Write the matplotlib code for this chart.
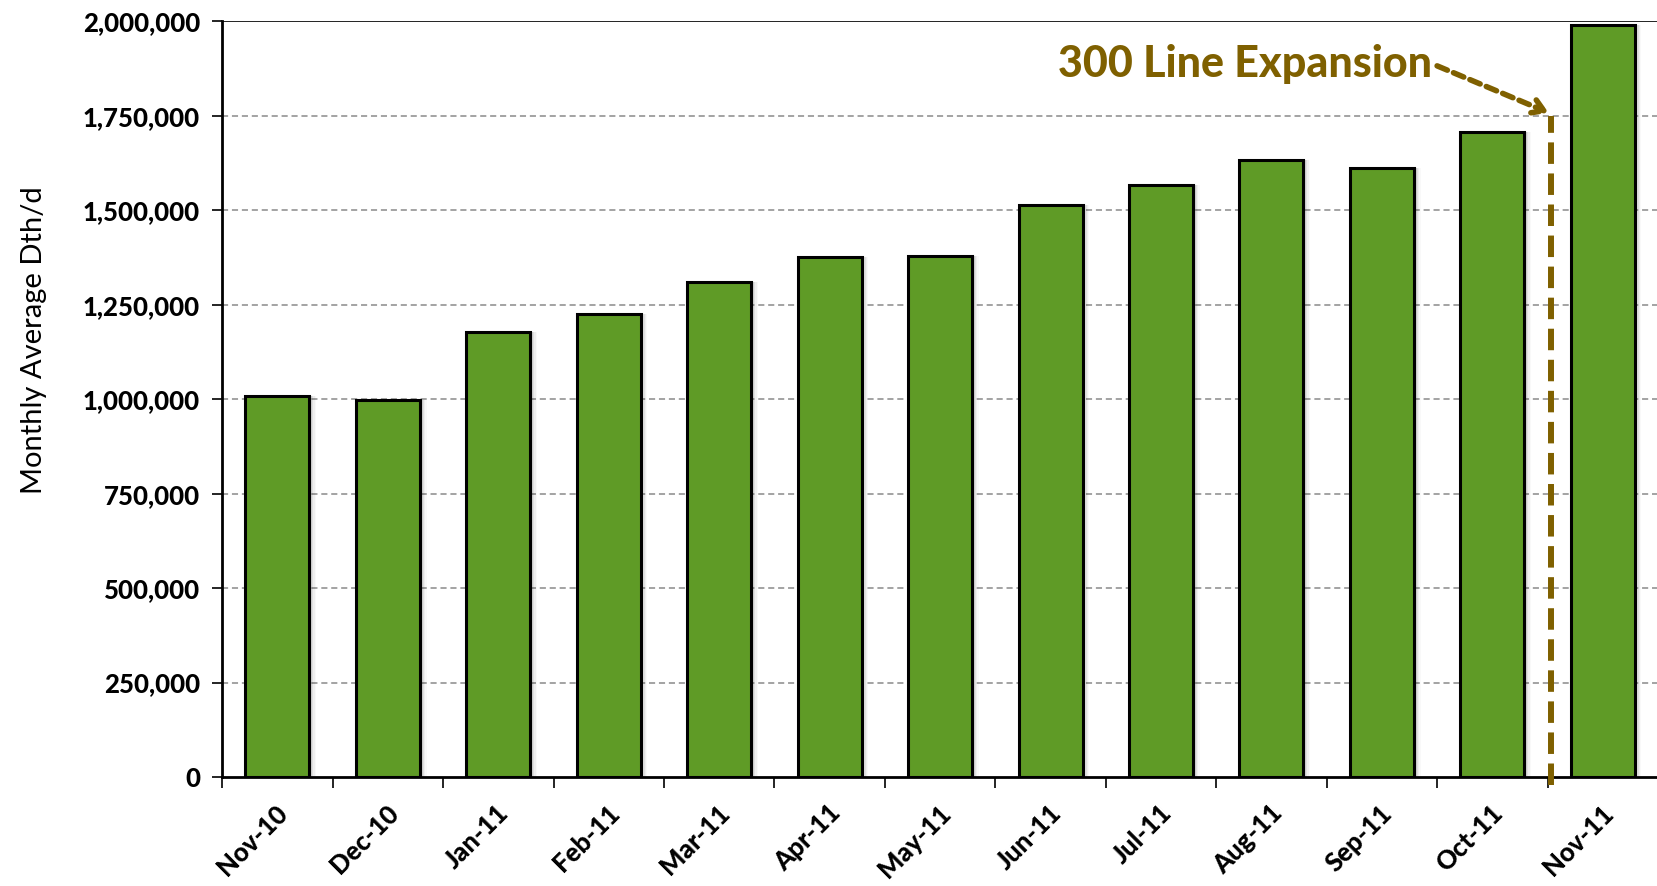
import matplotlib.pyplot as plt
import matplotlib.transforms as mtrans
import numpy as np
from matplotlib.ticker import FuncFormatter, MultipleLocator

plt.rcParams["font.family"] = ["Lato", "DejaVu Sans"]

# ── data ──────────────────────────────────────────────────────────────────────
months = ["Nov-10", "Dec-10", "Jan-11", "Feb-11", "Mar-11", "Apr-11", "May-11",
          "Jun-11", "Jul-11", "Aug-11", "Sep-11", "Oct-11", "Nov-11"]
dth_per_day = [1007000, 998000, 1177000, 1225000, 1311000, 1376000, 1379000,
               1513000, 1566000, 1633000, 1611000, 1706000, 1989000]

ANNOT_TEXT = "300 Line Expansion"
EXPANSION_X = 11.53          # between Oct-11 and Nov-11
EXPANSION_Y = 1750000

BAR_CLR = "#5F9B26"
ANN_CLR = "#7F6000"

# ── figure ────────────────────────────────────────────────────────────────────
fig = plt.figure(figsize=(16.58, 8.86), dpi=100, facecolor="white")
ax = fig.add_axes([0.134, 0.123, 0.866, 0.853])

x = np.arange(len(months))
w = 0.58

# soft shadow to the right of each bar
for k, a in enumerate([0.10, 0.08, 0.06, 0.04, 0.025]):
    off = 0.012 * (k + 1)
    ax.bar(x + off, dth_per_day, w, color="black", alpha=a, lw=0, zorder=2)

ax.bar(x, dth_per_day, w, color=BAR_CLR, edgecolor="black", lw=2.2, zorder=3)

ax.set_xlim(-0.5, len(months) - 0.5)
ax.set_ylim(0, 2000000)

# gridlines
ax.yaxis.set_major_locator(MultipleLocator(250000))
for gy in range(250000, 2000000, 250000):
    ax.axhline(gy, color="#8a8a8a", lw=1.1, ls=(0, (4, 2.5)), zorder=1)
ax.axhline(2000000, color="#222222", lw=1.4, zorder=1)

ax.yaxis.set_major_formatter(FuncFormatter(lambda v, p: f"{int(v):,}"))
ax.tick_params(axis="y", length=7, width=1.2, pad=9, labelsize=18.5)
for t in ax.get_yticklabels():
    t.set_fontweight("black")

# x: tick marks at category boundaries, labels at centers
ax.set_xticks(np.arange(-0.5, len(months), 1.0), minor=False)
ax.set_xticklabels([])
ax.tick_params(axis="x", which="major", length=8, width=1.2, direction="out")
ax.set_xticks(x, minor=True)
ax.set_xticklabels(months, minor=True, rotation=45, ha="right",
                   rotation_mode="anchor", fontsize=18.5, fontweight="black")
ax.tick_params(axis="x", which="minor", length=0, pad=17)
for t in ax.get_xticklabels(minor=True):
    t.set_transform(t.get_transform() +
                    mtrans.ScaledTranslation(-0.02, 0, fig.dpi_scale_trans))

ax.set_ylabel("Monthly Average Dth/d", fontsize=21)
ax.yaxis.set_label_coords(-0.122, 0.578)

for s in ["top", "right"]:
    ax.spines[s].set_visible(False)
ax.spines["left"].set_linewidth(2)
ax.spines["bottom"].set_linewidth(2)

# ── annotation ────────────────────────────────────────────────────────────────
ax.plot([EXPANSION_X, EXPANSION_X], [-22000, EXPANSION_Y], color=ANN_CLR,
        lw=4.3, ls=(0, (3.6, 1.6)), zorder=5, clip_on=False)
ax.text(10.45, 1888000, ANNOT_TEXT, ha="right", va="center", fontsize=31,
        fontweight="black", color=ANN_CLR, zorder=6)
ax.annotate("", xy=(EXPANSION_X - 0.02, EXPANSION_Y + 8000),
            xytext=(10.5, 1882000),
            arrowprops=dict(arrowstyle="->,head_length=0.8,head_width=0.5",
                            color=ANN_CLR, lw=4, ls=(0, (2, 1.2)),
                            shrinkA=0, shrinkB=0),
            zorder=6)

plt.savefig("out.png", dpi=100, facecolor="white")
